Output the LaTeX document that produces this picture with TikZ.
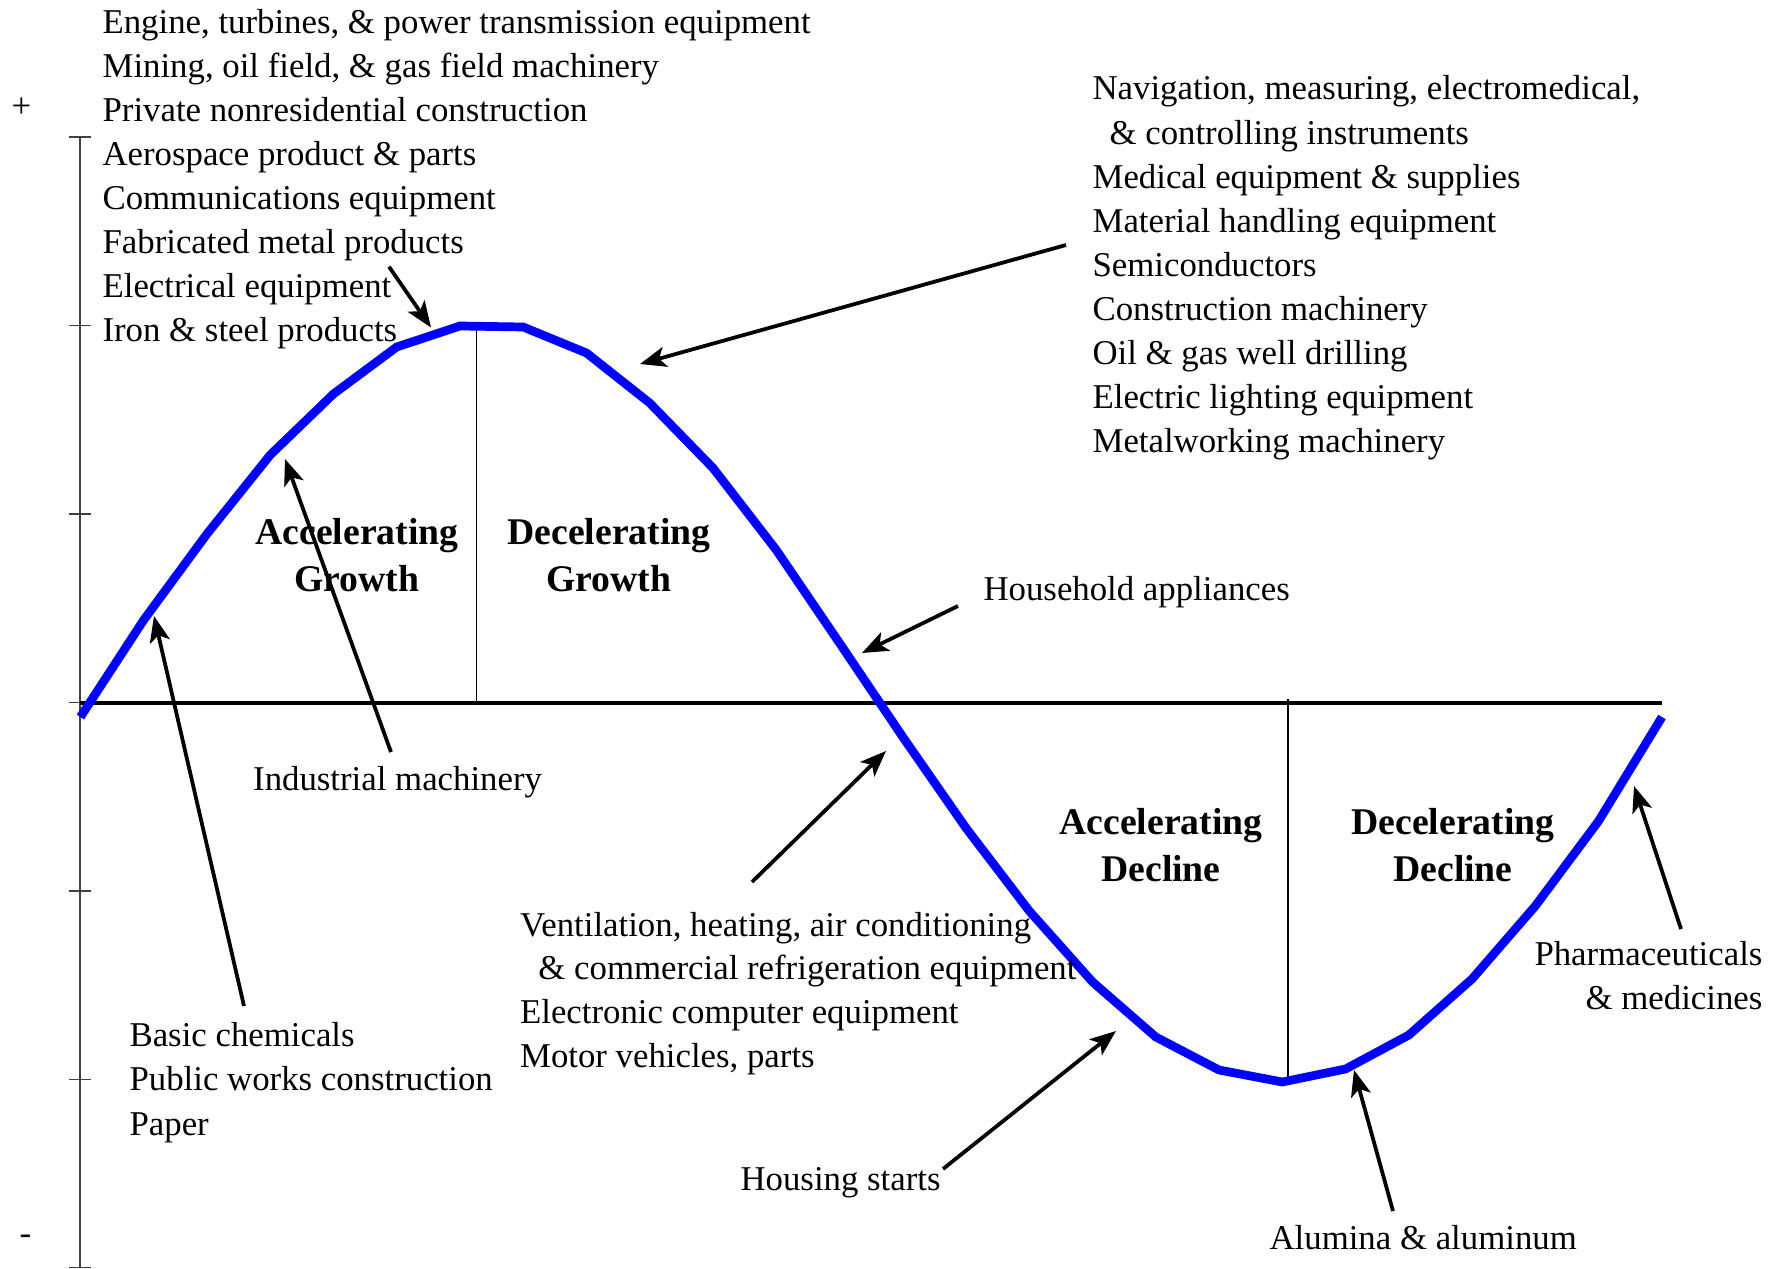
\documentclass[tikz,border=0pt]{standalone}
\usepackage{fontspec}
\setmainfont{Liberation Serif}
\usetikzlibrary{arrows.meta}
\begin{document}
\begin{tikzpicture}[x=0.345pt,y=-0.345pt,
  txt/.style={anchor=base west, inner sep=0pt, font=\fontsize{12}{14}\selectfont},
  txtr/.style={anchor=base east, inner sep=0pt, font=\fontsize{12}{14}\selectfont},
  phase/.style={anchor=base, inner sep=0pt, font=\fontsize{13}{15}\selectfont\bfseries},
  pointer/.style={line width=1.3pt, -{Stealth[length=9pt,width=7pt,inset=2.2pt]}},
  cycle/.style={line width=3pt, color=blue},
  axisline/.style={line width=0.45pt, color=black!75},
  divider/.style={line width=0.65pt},
  zeroline/.style={line width=1.1pt}]
\useasboundingbox (0,0) rectangle (1782,1269);

% vertical axis with ticks
\draw[axisline] (80,137) -- (80,1268);
\foreach \ty in {137,325.5,514,702.5,891,1079.5,1267.5}
  \draw[axisline] (69,\ty) -- (91,\ty);
\node[txt] (plus) at (11,118) {+};
\node[txt] (minus) at (19,1244) {-};

% zero line
\draw[zeroline] (80,703) -- (1662,703);

% phase dividers
\draw[divider] (476.5,328) -- (476.5,702);
\draw[divider] (1288,699) -- (1288,1082);

% the cycle curve
\draw[cycle] plot coordinates {
 (80.4,717) (143.7,620) (206.9,534) (270.2,455) (333.4,394) (396.7,347)
 (459.9,326) (523.2,327) (586.5,353) (649.7,403) (713,468) (776.3,550)
 (839.5,643) (902.8,737) (966,828) (1029.3,911) (1092.6,982) (1155.8,1037)
 (1219,1070) (1282.3,1082) (1345.6,1069) (1408.9,1035) (1472,979)
 (1535.3,906) (1598.6,821) (1662,717)};

% phase labels
\node[phase] (ag1) at (357,544) {Accelerating};
\node[phase] (ag2) at (357,591) {Growth};
\node[phase] (dg1) at (609,544) {Decelerating};
\node[phase] (dg2) at (609,591) {Growth};
\node[phase] (ad1) at (1161,834) {Accelerating};
\node[phase] (ad2) at (1161,881.5) {Decline};
\node[phase] (dd1) at (1453,834) {Decelerating};
\node[phase] (dd2) at (1453,881.5) {Decline};

% top-left list
\node[txt] (t1) at (102,34) {Engine, turbines, \& power transmission equipment};
\node[txt] (t2) at (102,78) {Mining, oil field, \& gas field machinery};
\node[txt] (t3) at (102,122) {Private nonresidential construction};
\node[txt] (t4) at (102,166) {Aerospace product \& parts};
\node[txt] (t5) at (102,210) {Communications equipment};
\node[txt] (t6) at (102,254) {Fabricated metal products};
\node[txt] (t7) at (102,298) {Electrical equipment};
\node[txt] (t8) at (102,342) {Iron \& steel products};

% right list
\node[txt] (r1) at (1092,100) {Navigation, measuring, electromedical,};
\node[txt] (r2) at (1109,144.1) {\& controlling instruments};
\node[txt] (r3) at (1092,188.2) {Medical equipment \& supplies};
\node[txt] (r4) at (1092,232.3) {Material handling equipment};
\node[txt] (r5) at (1092,276.4) {Semiconductors};
\node[txt] (r6) at (1092,320.5) {Construction machinery};
\node[txt] (r7) at (1092,364.6) {Oil \& gas well drilling};
\node[txt] (r8) at (1092,408.7) {Electric lighting equipment};
\node[txt] (r9) at (1092,452.8) {Metalworking machinery};

% other labels
\node[txt] (house) at (983,600.5) {Household appliances};
\node[txt] (indus) at (252.6,790.5) {Industrial machinery};
\node[txt] (v1) at (519.5,936) {Ventilation, heating, air conditioning};
\node[txt] (v2) at (537.9,979.8) {\& commercial refrigeration equipment};
\node[txt] (v3) at (519.5,1023.6) {Electronic computer equipment};
\node[txt] (v4) at (519.5,1067.4) {Motor vehicles, parts};
\node[txt] (b1) at (129,1046.5) {Basic chemicals};
\node[txt] (b2) at (129,1090.8) {Public works construction};
\node[txt] (b3) at (129,1135) {Paper};
\node[txt] (hs) at (740,1190) {Housing starts};
\node[txt] (al) at (1269,1249) {Alumina \& aluminum};
\node[txtr] (ph1) at (1763,965) {Pharmaceuticals};
\node[txtr] (ph2) at (1763,1009.5) {\& medicines};

% arrow end points
\coordinate (elecT) at (389,266.7);   \coordinate (elecH) at (431,327.5);
\coordinate (navT) at (1066,245);     \coordinate (navH) at (640,364);
\coordinate (indT) at (391,752);      \coordinate (indH) at (285,459);
\coordinate (basT) at (244,1006);     \coordinate (basH) at (154,616);
\coordinate (houT) at (958,606);      \coordinate (houH) at (862,653);
\coordinate (venT) at (752,882);      \coordinate (venH) at (886,751);
\coordinate (hsT) at (943,1169);      \coordinate (hsH) at (1116,1031);
\coordinate (alT) at (1393,1211);     \coordinate (alH) at (1354,1070);
\coordinate (phT) at (1681,929);      \coordinate (phH) at (1634,786);

\draw[pointer] (elecT) -- (elecH);
\draw[pointer] (navT) -- (navH);
\draw[pointer] (indT) -- (indH);
\draw[pointer] (basT) -- (basH);
\draw[pointer] (houT) -- (houH);
\draw[pointer] (venT) -- (venH);
\draw[pointer] (hsT) -- (hsH);
\draw[pointer] (alT) -- (alH);
\draw[pointer] (phT) -- (phH);
\end{tikzpicture}
\end{document}
